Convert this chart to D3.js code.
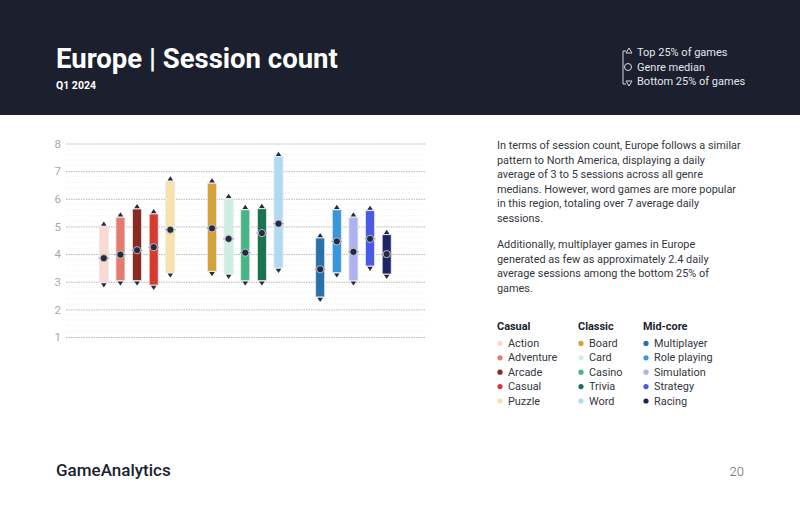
<!DOCTYPE html>
<html lang="en">
<head>
<meta charset="utf-8">
<title>Europe | Session count</title>
<script src="https://cdn.jsdelivr.net/npm/d3@7"></script>
<style>
  html, body { margin: 0; padding: 0; background: white; }
  svg { display: block; font-family: Roboto, "DejaVu Sans", sans-serif; }
</style>
</head>
<body>
<script>
// Data
var groups = ["Casual", "Classic", "Mid-core"];
var genres = [
  ["Action", "Adventure", "Arcade", "Casual", "Puzzle"],
  ["Board", "Card", "Casino", "Trivia", "Word"],
  ["Multiplayer", "Role playing", "Simulation", "Strategy", "Racing"]
];
var colors = [
  ["#fbd9d3", "#e57a70", "#8b2a22", "#d63b2f", "#f9e2a9"],
  ["#d4a23a", "#ccefe2", "#46b484", "#1b7450", "#b0d9f2"],
  ["#2a72aa", "#3597dd", "#aeb2f0", "#4a59e6", "#1d2566"]
];
var top25 = [
  [5.0, 5.33, 5.63, 5.45, 6.63],
  [6.56, 6.0, 5.6, 5.64, 7.52],
  [4.58, 5.6, 5.33, 5.57, 4.7]
];
var median = [
  [3.85, 3.98, 4.14, 4.25, 4.88],
  [4.93, 4.55, 4.05, 4.76, 5.1],
  [3.45, 4.46, 4.08, 4.55, 4.0]
];
var bottom25 = [
  [2.97, 3.04, 3.04, 2.88, 3.33],
  [3.38, 3.28, 3.04, 3.04, 3.5],
  [2.45, 3.33, 3.04, 3.57, 3.28]
];
var yTicks = [1, 2, 3, 4, 5, 6, 7, 8];

var w = 800, h = 506;
var navy = "#1b1f2e";
var marker = "#252a40";

var svg = d3.select("body").append("svg").attr("width", w).attr("height", h);

// Header band
svg.append("rect").attr("x", 0).attr("y", 0).attr("width", w).attr("height", 115).attr("fill", navy);
svg.append("text").attr("x", 56).attr("y", 68).text("Europe | Session count")
  .attr("fill", "white").attr("font-weight", "bold").attr("font-size", "27.5px");
svg.append("text").attr("x", 56).attr("y", 89).text("Q1 2024")
  .attr("fill", "white").attr("font-weight", "bold").attr("font-size", "10.5px");

// Header legend (key to the marks)
var hk = svg.append("g").attr("stroke", "#d8dae0").attr("fill", "none").attr("stroke-width", 1);
hk.append("path").attr("d", "M623,51 V84");
hk.append("path").attr("d", "M623,51 h3");
hk.append("path").attr("d", "M623,84 h3");
hk.append("path").attr("d", "M626,53 l3,-5 l3,5 z");
hk.append("circle").attr("cx", 628).attr("cy", 67).attr("r", 3.5);
hk.append("path").attr("d", "M626,81 l3,5 l3,-5 z");
var hkLabels = ["Top 25% of games", "Genre median", "Bottom 25% of games"];
svg.selectAll("text.hk").data(hkLabels).enter().append("text").attr("class", "hk")
  .attr("x", 637).attr("y", function(d, i) { return 56 + i * 14.5; })
  .attr("fill", "#e4e6ea").attr("font-size", "11px").text(function(d) { return d; });

// Scales
var y = d3.scaleLinear().domain([1, 8]).range([337, 143.5]);
var xGroup = d3.scaleBand().domain(groups).range([95.5, 395]).paddingInner(0.2315).paddingOuter(0);
var xInner = d3.scaleBand().domain(d3.range(5)).range([0, xGroup.bandwidth()]).paddingInner(0.46).paddingOuter(0.23);

// Minor grid lines
var minor = d3.range(1, 8.001, 0.2).filter(function(v) { return Math.abs(v - Math.round(v)) > 0.01; });
svg.append("g").selectAll("line").data(minor).enter().append("line")
  .attr("x1", 66).attr("x2", 425)
  .attr("y1", function(d) { return y(d); }).attr("y2", function(d) { return y(d); })
  .attr("stroke", "#f0f0f0").attr("stroke-width", 0.8).attr("stroke-dasharray", "1.5,1.5");

// Axis labels and major grid lines
var axisG = svg.append("g").attr("transform", "translate(66,0)")
  .call(d3.axisLeft(y).tickValues(yTicks).tickSize(0).tickPadding(5).tickFormat(d3.format("d")));
axisG.select(".domain").remove();
axisG.selectAll("text").attr("fill", "#a8a8a8").attr("font-size", "11.5px").attr("font-family", "Roboto, sans-serif");
axisG.selectAll(".tick").append("line")
  .attr("x1", 0).attr("x2", 359).attr("stroke", "#b0b0b0").attr("stroke-width", 0.9).attr("stroke-dasharray", "1.5,1");

// Bars
var rows = [];
groups.forEach(function(g, gi) {
  genres[gi].forEach(function(name, i) {
    rows.push({ group: g, i: i, name: name, color: colors[gi][i], top: top25[gi][i], med: median[gi][i], bot: bottom25[gi][i] });
  });
});

var bw = xInner.bandwidth();
var bars = svg.append("g").selectAll("g.bar").data(rows).enter().append("g").attr("class", "bar")
  .attr("transform", function(d) { return "translate(" + (xGroup(d.group) + xInner(d.i)) + ",0)"; });

bars.append("rect")
  .attr("x", 0).attr("width", bw)
  .attr("y", function(d) { return y(d.top); })
  .attr("height", function(d) { return y(d.bot) - y(d.top); })
  .attr("fill", function(d) { return d.color; })
  .attr("stroke", "#e6e6ea").attr("stroke-width", 0.8);

// top / bottom triangles
bars.append("path")
  .attr("d", function(d) { var t = y(d.top); return "M" + (bw / 2 - 2.8) + "," + (t - 0.8) + " L" + (bw / 2) + "," + (t - 5) + " L" + (bw / 2 + 2.8) + "," + (t - 0.8) + " Z"; })
  .attr("fill", marker);
bars.append("path")
  .attr("d", function(d) { var b = y(d.bot); return "M" + (bw / 2 - 2.8) + "," + (b + 0.8) + " L" + (bw / 2) + "," + (b + 5) + " L" + (bw / 2 + 2.8) + "," + (b + 0.8) + " Z"; })
  .attr("fill", marker);

// median line and dot
bars.append("line")
  .attr("x1", -1).attr("x2", bw + 1)
  .attr("y1", function(d) { return y(d.med); }).attr("y2", function(d) { return y(d.med); })
  .attr("stroke", "#a6a8b2").attr("stroke-width", 1.2);
bars.append("circle")
  .attr("cx", bw / 2).attr("cy", function(d) { return y(d.med); }).attr("r", 3.6)
  .attr("fill", marker).attr("stroke", "#d9dae0").attr("stroke-width", 0.8);

// Commentary text
var para1 = ["In terms of session count, Europe follows a similar",
  "pattern to North America, displaying a daily",
  "average of 3 to 5 sessions across all genre",
  "medians. However, word games are more popular",
  "in this region, totaling over 7 average daily",
  "sessions."];
var para2 = ["Additionally, multiplayer games in Europe",
  "generated as few as approximately 2.4 daily",
  "average sessions among the bottom 25% of",
  "games."];
svg.append("g").selectAll("text").data(para1).enter().append("text")
  .attr("x", 497).attr("y", function(d, i) { return 149 + i * 14.6; })
  .attr("fill", "#333740").attr("font-size", "10.9px").text(function(d) { return d; });
svg.append("g").selectAll("text").data(para2).enter().append("text")
  .attr("x", 497).attr("y", function(d, i) { return 248 + i * 14.6; })
  .attr("fill", "#333740").attr("font-size", "10.9px").text(function(d) { return d; });

// Genre legend
var legX = [497, 578, 643];
groups.forEach(function(g, gi) {
  svg.append("text").attr("x", legX[gi]).attr("y", 330).text(g)
    .attr("font-weight", "bold").attr("font-size", "10.9px").attr("fill", "#1b1f2e");
  var lg = svg.append("g").selectAll("g").data(genres[gi]).enter().append("g")
    .attr("transform", function(d, i) { return "translate(" + legX[gi] + "," + (347 + i * 14.4) + ")"; });
  lg.append("circle").attr("cx", 3).attr("cy", -3.6).attr("r", 2.6)
    .attr("fill", function(d, i) { return colors[gi][i]; });
  lg.append("text").attr("x", 11).attr("y", 0).text(function(d) { return d; })
    .attr("font-size", "10.9px").attr("fill", "#333740");
});

// Footer
svg.append("text").attr("x", 56).attr("y", 476).text("GameAnalytics")
  .attr("font-weight", 500).attr("font-size", "17px").attr("fill", navy);
svg.append("text").attr("x", 744).attr("y", 476).attr("text-anchor", "end").text("20")
  .attr("font-size", "13px").attr("font-weight", 300).attr("fill", "#666");
</script>
</body>
</html>
